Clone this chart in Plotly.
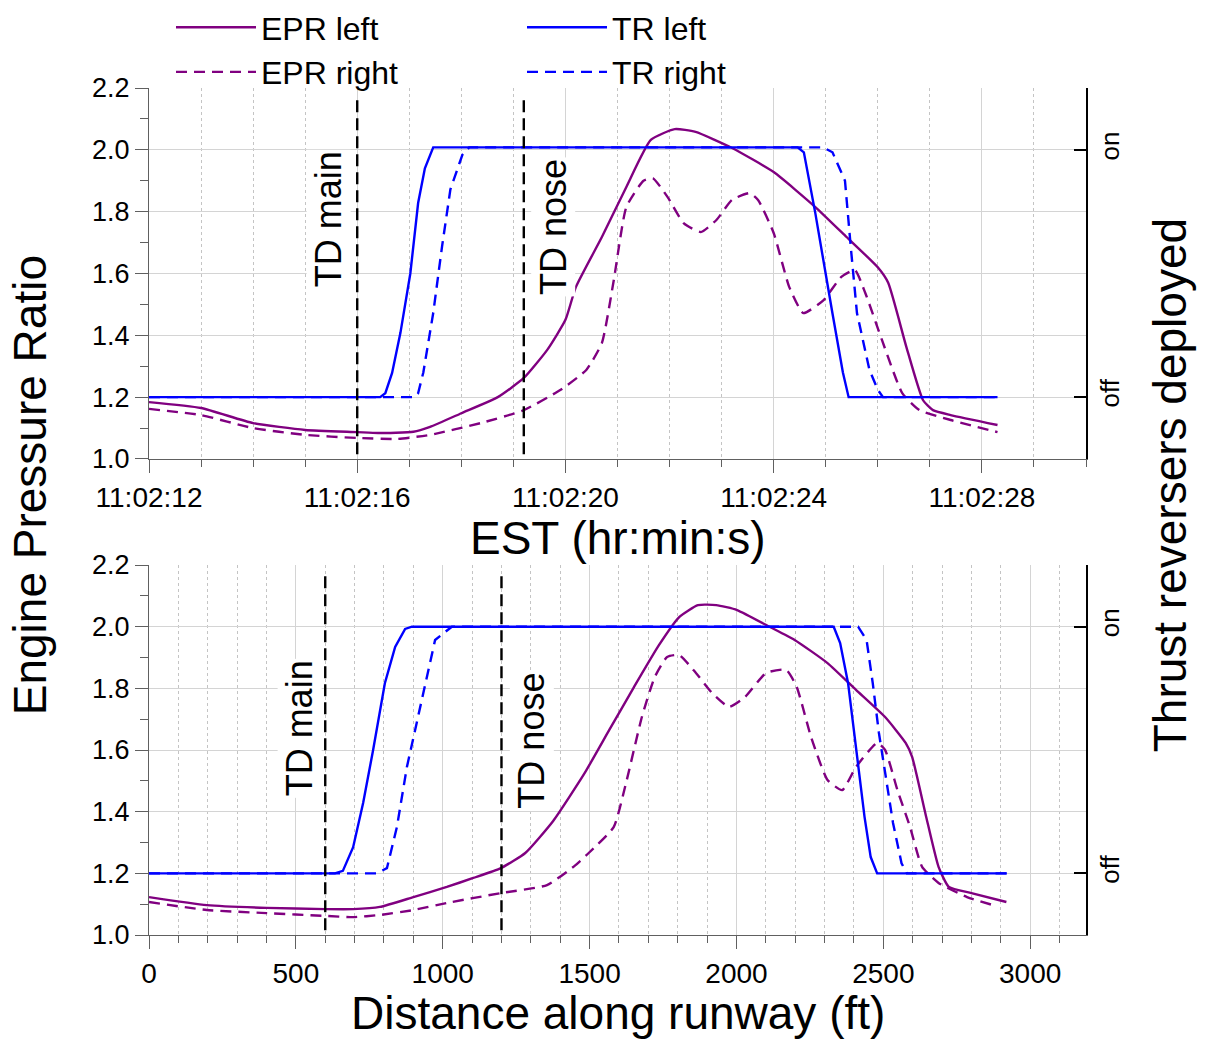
import plotly.graph_objects as go

# ---------------- data (top: seconds after 11:02:12) ----------------
time_tick_vals = [0, 4, 8, 12, 16]
time_tick_text = ["11:02:12", "11:02:16", "11:02:20", "11:02:24", "11:02:28"]

t_epr_left = [0, 1.0, 2.0, 3.0, 4.0, 4.4, 5.08, 5.4, 6.0, 6.7, 7.2, 7.65, 8.0, 8.2, 8.7, 9.17,
              9.64, 10.1, 10.5, 11.2, 12.0, 12.8, 13.4, 14.0, 14.2, 14.55, 14.87, 15.06, 15.4, 16.3]
epr_left_t = [1.184, 1.165, 1.116, 1.094, 1.087, 1.084, 1.088, 1.104, 1.148, 1.2, 1.262, 1.353, 1.45,
              1.556, 1.718, 1.88, 2.032, 2.067, 2.058, 2.006, 1.928, 1.815, 1.718, 1.62, 1.57, 1.362,
              1.19, 1.158, 1.142, 1.11]

t_epr_right = [0, 1, 2, 3, 4, 4.77, 5.4, 6.37, 7.2, 7.9, 8.4, 8.7, 8.93, 9.17, 9.5, 9.68, 9.96, 10.27,
               10.6, 10.9, 11.2, 11.54, 11.7, 12.0, 12.3, 12.57, 12.96, 13.3, 13.56, 13.76, 14.08,
               14.47, 14.8, 15.4, 16.3]
epr_right_t = [1.162, 1.142, 1.1, 1.078, 1.068, 1.065, 1.078, 1.116, 1.158, 1.223, 1.288, 1.375, 1.58,
               1.815, 1.9, 1.908, 1.848, 1.763, 1.734, 1.773, 1.838, 1.86, 1.838, 1.731, 1.556, 1.472,
               1.514, 1.589, 1.611, 1.537, 1.385, 1.213, 1.158, 1.126, 1.087]

# thrust reverser deployment (0 = off, 1 = on)
t_tr_left = [0, 4.44, 4.54, 4.67, 4.83, 5.02, 5.17, 5.3, 5.46, 12.46, 12.58, 12.8, 13.13, 13.33, 13.44, 16.3]
tr_left_t = [0, 0, 0.016, 0.098, 0.26, 0.5, 0.785, 0.925, 1.01, 1.01, 0.99, 0.744, 0.338, 0.1, 0, 0]

t_tr_right = [0, 5.1, 5.17, 5.27, 5.46, 5.63, 5.79, 6.02, 6.15, 12.95, 13.13, 13.37, 13.48, 13.6,
              13.84, 14.0, 14.1, 16.3]
tr_right_t = [0, 0, 0.016, 0.1, 0.34, 0.61, 0.84, 0.98, 1.01, 1.01, 0.99, 0.875, 0.61, 0.34, 0.11,
              0.03, 0, 0]

td_time = [4.0, 7.2]          # TD main, TD nose
td_labels = ["TD main", "TD nose"]

# ---------------- data (bottom: distance along runway, ft) ----------------
d_epr_left = [0, 197, 400, 600, 695, 786, 900, 1014, 1104, 1198, 1281, 1376, 1483, 1567, 1651, 1736,
              1805, 1869, 1931, 2002, 2114, 2198, 2310, 2407, 2506, 2576, 2598, 2646, 2688, 2723,
              2800, 2919]
epr_left_d = [1.123, 1.097, 1.088, 1.084, 1.084, 1.091, 1.123, 1.156, 1.185, 1.217, 1.266, 1.37,
              1.525, 1.665, 1.804, 1.94, 2.031, 2.07, 2.07, 2.054, 1.999, 1.957, 1.882, 1.795, 1.707,
              1.623, 1.578, 1.383, 1.221, 1.156, 1.136, 1.107]

d_epr_right = [0, 197, 400, 600, 695, 786, 900, 1014, 1198, 1355, 1450, 1497, 1582, 1624, 1678, 1722,
               1764, 1805, 1862, 1917, 1975, 2029, 2101, 2169, 2205, 2254, 2310, 2360, 2407, 2479,
               2506, 2548, 2591, 2632, 2688, 2785, 2884]
epr_right_d = [1.107, 1.081, 1.071, 1.062, 1.058, 1.065, 1.081, 1.104, 1.136, 1.162, 1.225, 1.266,
               1.35, 1.493, 1.707, 1.837, 1.902, 1.908, 1.85, 1.785, 1.74, 1.772, 1.85, 1.86, 1.805,
               1.642, 1.503, 1.47, 1.545, 1.623, 1.6, 1.47, 1.35, 1.221, 1.169, 1.123, 1.094]

d_tr_left = [0, 633, 660, 695, 729, 763, 803, 838, 872, 895, 2331, 2353, 2380, 2407, 2436, 2457, 2479, 2920]
tr_left_d = [0, 0, 0.01, 0.106, 0.285, 0.5, 0.771, 0.918, 0.991, 1.0, 1.0, 0.934, 0.771, 0.5, 0.229,
             0.066, 0, 0]

d_tr_right = [0, 775, 810, 844, 878, 912, 946, 974, 1031, 2414, 2443, 2464, 2485, 2513, 2533, 2562, 2580, 2920]
tr_right_d = [0, 0, 0.021, 0.188, 0.431, 0.61, 0.796, 0.946, 1.0, 1.0, 0.946, 0.771, 0.569, 0.366,
              0.204, 0.041, 0, 0]

td_dist = [600, 1200]

# ---------------- styling ----------------
PURPLE = "#800080"
BLUE = "#0000ff"
FONT = "Liberation Sans, Arial, sans-serif"
AXC = "#606060"
GRID = "#d4d4d4"
MINGRID = "#c4c4c4"

fig = go.Figure()

def add_set(xa, ya, yr, tr_l, tr_r, epr_l, epr_r, show):
    (x_eprl, y_eprl), (x_eprr, y_eprr) = epr_l, epr_r
    (x_trl, y_trl), (x_trr, y_trr) = tr_l, tr_r
    fig.add_trace(go.Scatter(x=x_trr, y=y_trr, mode="lines", name="TR right", xaxis=xa, yaxis=yr,
                             line=dict(color=BLUE, width=2.4, dash="11px,7px"),
                             legend="legend2", legendrank=2, showlegend=show))
    fig.add_trace(go.Scatter(x=x_trl, y=y_trl, mode="lines", name="TR left", xaxis=xa, yaxis=yr,
                             line=dict(color=BLUE, width=2.4),
                             legend="legend2", legendrank=1, showlegend=show))
    fig.add_trace(go.Scatter(x=x_eprr, y=y_eprr, mode="lines", name="EPR right", xaxis=xa, yaxis=ya,
                             line=dict(color=PURPLE, width=2.4, dash="11px,7px", shape="spline",
                                       smoothing=0.5),
                             legend="legend", legendrank=2, showlegend=show))
    fig.add_trace(go.Scatter(x=x_eprl, y=y_eprl, mode="lines", name="EPR left", xaxis=xa, yaxis=ya,
                             line=dict(color=PURPLE, width=2.4, shape="spline", smoothing=0.5),
                             legend="legend", legendrank=1, showlegend=show))

add_set("x", "y", "y2", (t_tr_left, tr_left_t), (t_tr_right, tr_right_t),
        (t_epr_left, epr_left_t), (t_epr_right, epr_right_t), True)
add_set("x2", "y3", "y4", (d_tr_left, tr_left_d), (d_tr_right, tr_right_d),
        (d_epr_left, epr_left_d), (d_epr_right, epr_right_d), False)

# touchdown markers
for xs, xref, yref, shifts, ylab in [
        (td_time, "x", "y", (-29, 29), (1.776, 1.75)),
        (td_dist, "x2", "y3", (-26, 30), (1.671, 1.632))]:
    for xv, lab, sh, yl in zip(xs, td_labels, shifts, ylab):
        fig.add_shape(type="line", xref=xref, yref=yref, x0=xv, x1=xv, y0=1.015, y1=2.177,
                      line=dict(color="black", width=2.4, dash="12px,6px"), layer="above")
        fig.add_annotation(x=xv, y=yl, xref=xref, yref=yref, text=lab, showarrow=False,
                           textangle=-90, xshift=sh, bgcolor="white",
                           font=dict(size=36, color="black", family=FONT))

def xax(**kw):
    base = dict(showline=True, linecolor=AXC, linewidth=1.2, ticks="outside", ticklen=13,
                tickwidth=1.2, tickcolor=AXC, showgrid=True, gridcolor=GRID, gridwidth=1.3,
                zeroline=False, tickfont=dict(size=28, color="black", family=FONT))
    base.update(kw)
    return base

def yax(**kw):
    base = dict(showline=True, linecolor=AXC, linewidth=1.2, ticks="outside", ticklen=13,
                tickwidth=1.2, tickcolor=AXC, showgrid=True, gridcolor=GRID, gridwidth=1.3,
                zeroline=False, range=[1.0, 2.2], dtick=0.2, tick0=1.0, tickformat=".1f",
                minor=dict(dtick=0.1, ticks="outside", ticklen=8, tickcolor=AXC, showgrid=False),
                tickfont=dict(size=27, color="black", family=FONT))
    base.update(kw)
    return base

def rax(**kw):
    base = dict(side="right", range=[-0.25, 1.25], tickmode="array", tickvals=[0, 1],
                ticktext=["off", "on"], tickangle=-90, ticks="inside", ticklen=12, tickwidth=2,
                tickcolor="black", showline=True, linecolor="black", linewidth=2.2, showgrid=False,
                zeroline=False, tickfont=dict(size=26, color="black", family=FONT))
    base.update(kw)
    return base

TOP = [0.562, 1.0]
BOT = [0.0, 0.4368]

legend_common = dict(yref="container", xref="container", y=1.013, xanchor="left", yanchor="top",
                     orientation="v", font=dict(size=32, family=FONT, color="black"),
                     itemwidth=80, bgcolor="rgba(0,0,0,0)", tracegroupgap=0)

fig.update_layout(
    width=1206, height=1040,
    margin=dict(l=149, r=120, t=88, b=105, autoexpand=False),
    paper_bgcolor="white", plot_bgcolor="white",
    font=dict(family=FONT, color="black"),
    xaxis=xax(domain=[0, 1], anchor="y", range=[0, 18], tickmode="array",
              tickvals=time_tick_vals, ticktext=time_tick_text,
              minor=dict(tickmode="linear", tick0=0, dtick=1, ticks="outside", ticklen=7,
                         tickcolor=AXC, showgrid=True, griddash="dot", gridcolor=MINGRID,
                         gridwidth=1)),
    yaxis=yax(domain=TOP, anchor="x"),
    yaxis2=rax(overlaying="y", anchor="x"),
    xaxis2=xax(domain=[0, 1], anchor="y3", range=[0, 3190], dtick=500, tick0=0,
               minor=dict(dtick=100, ticks="outside", ticklen=7, tickcolor=AXC, showgrid=True,
                          griddash="dot", gridcolor=MINGRID, gridwidth=1)),
    yaxis3=yax(domain=BOT, anchor="x2"),
    yaxis4=rax(overlaying="y3", anchor="x2"),
    legend=dict(x=171 / 1206, **legend_common),
    legend2=dict(x=522 / 1206, **legend_common),
    showlegend=True,
)

title_font = dict(size=46, family=FONT, color="black")
fig.add_annotation(text="EST (hr:min:s)", xref="paper", yref="paper", x=0.5, y=0.4687,
                   xanchor="center", yanchor="middle", showarrow=False, font=title_font)
fig.add_annotation(text="Distance along runway (ft)", xref="paper", yref="paper", x=0.5, y=-0.092,
                   xanchor="center", yanchor="middle", showarrow=False, font=title_font)
fig.add_annotation(text="Engine Pressure Ratio", xref="paper", yref="paper", x=-0.127, y=0.531,
                   xanchor="center", yanchor="middle", showarrow=False, textangle=-90, font=title_font)
fig.add_annotation(text="Thrust reversers deployed", xref="paper", yref="paper", x=1.0897, y=0.531,
                   xanchor="center", yanchor="middle", showarrow=False, textangle=-90, font=title_font)

fig.write_html("out.html", config={"displayModeBar": False},
               post_script="document.body.style.margin='0';document.body.style.overflow='hidden';")
